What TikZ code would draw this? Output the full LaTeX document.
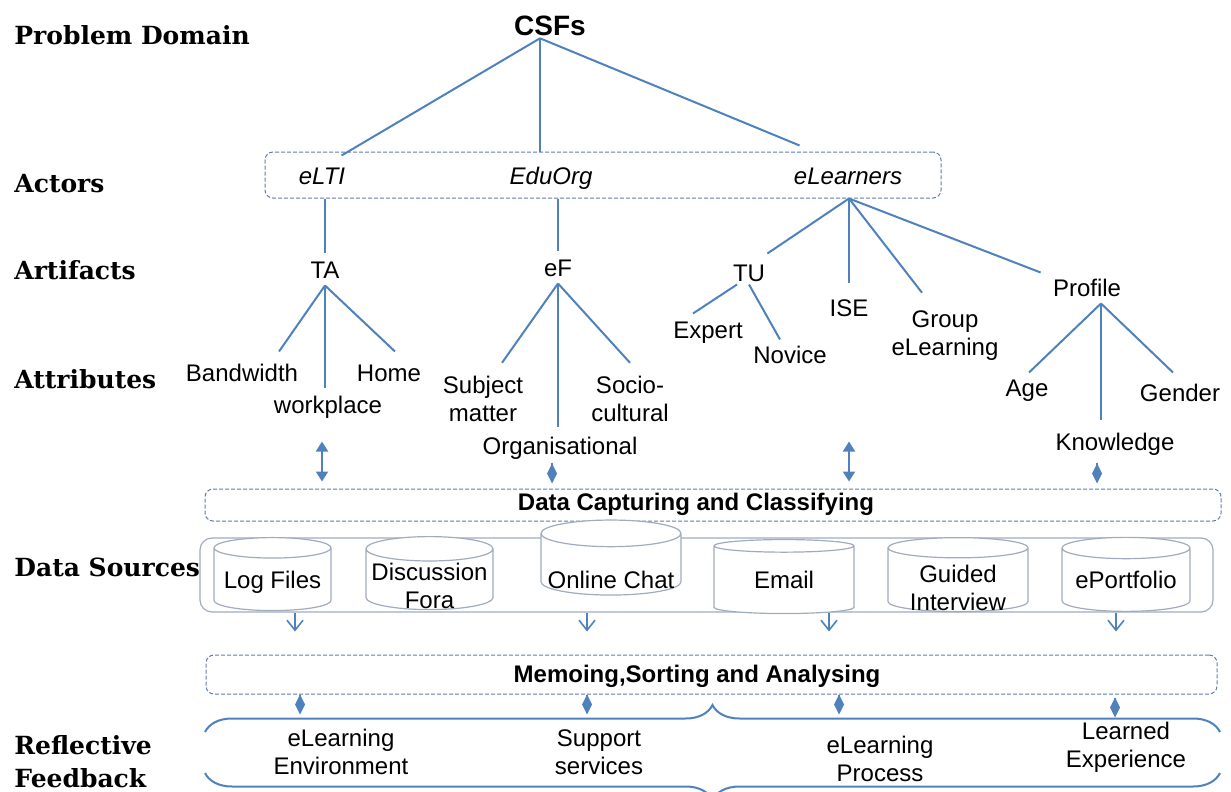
\documentclass[tikz,border=0pt]{standalone}
\usepackage{fontspec}
\setmainfont{Liberation Sans}
\newfontfamily\rowfont{DejaVu Serif}
\usetikzlibrary{arrows.meta,positioning,calc,shapes.geometric,decorations.pathreplacing}
\definecolor{lblue}{RGB}{79,129,189}
\definecolor{dblue}{RGB}{95,125,170}
\definecolor{cgray}{RGB}{160,172,190}
\newcommand\dbtxt[2]{\smash{\raisebox{#1}{\begin{tabular}[t]{@{}c@{}}#2\end{tabular}}}}
\tikzset{
	lbl/.style={font=\fontsize{12}{14}\selectfont, inner sep=1pt, text height=8.6pt, text depth=2.5pt},
	actor/.style={lbl, font=\fontsize{12}{14}\selectfont\itshape},
	mlbl/.style={font=\fontsize{12}{14}\selectfont, inner sep=1pt, align=center},
	row/.style={font=\rowfont\bfseries\fontsize{12.5}{16.5}\selectfont, anchor=west, inner sep=0pt, align=left},
	btxt/.style={font=\bfseries\fontsize{12}{14}\selectfont, inner sep=1pt},
	pbox/.style={draw=dblue, line width=0.5pt, dash pattern=on 2pt off 1pt, rounded corners=4pt},
	srcbox/.style={draw=cgray, line width=0.6pt, rounded corners=6pt},
	db/.style={cylinder, shape border rotate=90, aspect=0.21, draw=cgray, fill=white, line width=0.6pt, mlbl, inner sep=0pt},
	dbl/.style={{Triangle[length=5pt,width=6pt]}-{Triangle[length=5pt,width=6pt]}, line width=1pt, lblue},
	dia/.style={-{Diamond[length=10pt,width=5pt]}, line width=0.8pt, lblue},
	oarr/.style={-{Straight Barb[length=5pt,width=8pt]}, line width=0.8pt, lblue},
	brc/.style={decorate, decoration={brace, amplitude=13.5pt}, line width=1pt, lblue},
	every edge/.style={draw, line width=1pt, lblue}
}
\begin{document}
\begin{tikzpicture}[x=0.5pt,y=-0.5pt]
	\useasboundingbox (0,0) rectangle (1231,792);

	\node[row] (pd) at (14,35) {Problem Domain};
	\node[row] (act) at (14,184) {Actors};
	\node[row] (art) at (14,270) {Artifacts};
	\node[row] (atr) at (14,379) {Attributes};
	\node[row] (dsrc) at (14,567) {Data Sources};
	\node[row] (rfb) at (14,762) {Reflective\\Feedback};

	\node[btxt, font=\bfseries\fontsize{14}{16}\selectfont] (csf) at (550,26) {CSFs};
	\node[pbox, minimum width=338pt, minimum height=23pt] (abox) at (603,175) {};
	\node[actor] (elti) at (322,178) {eLTI};
	\node[actor] (eduorg) at (551,178) {EduOrg};
	\node[actor] (elrn) at (848,178) {eLearners};

	\node[lbl] (ta) at (325,272) {TA};
	\node[lbl] (ef) at (558,270) {eF};
	\node[lbl] (tu) at (749,275) {TU};
	\node[lbl] (ise) at (849,310) {ISE};
	\node[mlbl] (grp) at (945,336) {Group\\eLearning};
	\node[lbl] (prof) at (1087,290) {Profile};

	\node[lbl] (bw) at (242,375) {Bandwidth};
	\node[lbl] (wp) at (328,407) {workplace};
	\node[lbl] (home) at (389,375) {Home};
	\node[mlbl] (subj) at (483,399) {Subject\\matter};
	\node[lbl] (org) at (560,448) {Organisational};
	\node[mlbl] (soc) at (630,399) {Socio-\\cultural};
	\node[lbl] (expert) at (708,332) {Expert};
	\node[lbl] (nov) at (790,357) {Novice};
	\node[lbl] (age) at (1027,390) {Age};
	\node[lbl] (know) at (1115,444) {Knowledge};
	\node[lbl] (gen) at (1180,395) {Gender};

	\coordinate (root) at ([xshift=-5pt]csf.south);
	\draw (root) edge ($(abox.north -| elti.north east)+(-6,4)$) edge (root |- abox.north) edge ($(abox.north -| elrn.north west)+(8,-6)$);

	\draw (abox.south -| ta) edge ($(ta.north)+(0,-6)$);
	\draw (abox.south -| ef) edge ($(ef.north)+(0,-6)$);

	\coordinate (lr) at (abox.south -| ise);
	\draw (lr) edge ($(tu.north east)+(0,-8)$) edge ($(ise.north)+(0,-14)$)
		edge ($(grp.north)+(-23,-16)$) edge ($(prof.north west)+(-10,-4)$);

	\draw (ta.south) edge ($(bw.north)+(37,-10)$) edge ($(wp.north)+(-3,-6)$) edge ($(home.north)+(6,-10)$);
	\draw (ef.south) edge ($(subj.north)+(19,-11)$) edge ($(org.north)+(-2,-8)$) edge ($(soc.north)+(0,-11)$);
	\draw ($(tu.south)+(-12,-4)$) edge ($(expert.north)+(-15,-5)$);
	\draw ($(tu.south)+(0,-4)$) edge ($(nov.north)+(-10,-4)$);
	\coordinate (pr) at ($(prof.south)+(14,0)$);
	\draw (pr) edge ($(age.north)+(2,-4)$) edge ($(know.north)+(-14,-11)$) edge ($(gen.north)+(-7,-9)$);

	\node[pbox, minimum width=508pt, minimum height=16pt] (cap) at (713,505) {};
	\node[btxt] (captxt) at (696,504) {Data Capturing and Classifying};
	\foreach \x in {322,849}
		\draw[dbl] ($(cap.north -| \x,0)+(0,-47)$) -- ($(cap.north -| \x,0)+(0,-7)$);
	\foreach \x in {552,1097}
		\draw[dia] ($(cap.north -| \x,0)+(0,-26)$) -- ($(cap.north -| \x,0)+(0,-5)$);

	\node[srcbox, minimum width=506.5pt, minimum height=37pt] (src) at (706.5,575) {};
	\node[db, minimum width=58.5pt, minimum height=36.5pt] (logf) at (272.5,579.5) {\dbtxt{-4.5pt}{Log Files}};
	\node[db, minimum width=63.5pt, minimum height=36.5pt] (disc) at (429.5,579.5) {\dbtxt{-0.5pt}{Discussion\\Fora}};
	\node[db, minimum width=70pt, minimum height=37.5pt] (chat) at (611,564.5) {\dbtxt{-12pt}{Online Chat}};
	\node[db, minimum width=70pt, minimum height=37pt] (mail) at (784,580) {\dbtxt{-4.3pt}{Email}};
	\node[db, minimum width=70pt, minimum height=37pt] (guid) at (958,580) {\dbtxt{-1.3pt}{Guided\\Interview}};
	\node[db, minimum width=64pt, minimum height=37pt] (port) at (1126,580) {\dbtxt{-4.3pt}{ePortfolio}};

	\node[pbox, minimum width=505.5pt, minimum height=19.5pt] (memo) at (711.5,674.5) {};
	\node[btxt] (memotxt) at (697,676) {Memoing,Sorting and Analysing};
	\foreach \x in {295,587,829,1116}
		\draw[oarr] (src.south -| \x,0) -- ($(memo.north -| \x,0)+(0,-23)$);
	\foreach \x in {300,587,839}
		\draw[dia] (memo.south -| \x,0) -- ($(memo.south -| \x,0)+(0,20)$);
	\draw[dia] ($(memo.south -| 1115,0)+(0,3)$) -- ($(memo.south -| 1115,0)+(0,23)$);

	\draw[brc] (205,732) -- (1220,732);
	\draw[brc] (1220,773) -- (205,773);
	\node[mlbl] (fb1) at (341,752) {eLearning\\Environment};
	\node[mlbl] (fb2) at (599,752) {Support\\services};
	\node[mlbl] (fb3) at (880,759) {eLearning\\Process};
	\node[mlbl] (fb4) at (1126,747) {Learned\\Experience};
\end{tikzpicture}
\end{document}
